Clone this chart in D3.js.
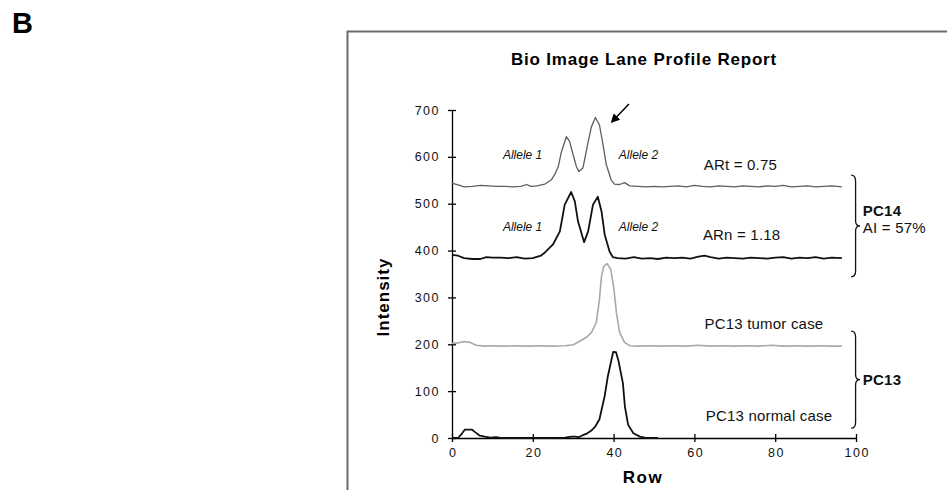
<!DOCTYPE html>
<html lang="en">
<head>
    <meta charset="UTF-8">
    <script src="https://d3js.org/d3.v7.min.js"></script>
    <style>
    body { margin:0; background:#fff; }
    svg { font-family: "Liberation Sans", Arial, sans-serif; }
    .trace { fill: none; stroke-linejoin: round; }
    .axis path, .axis line { stroke: #000; stroke-width: 1.3px; }
    .axis text { font-size: 12.5px; letter-spacing: 1.5px; fill: #111; font-family: "Liberation Sans", Arial, sans-serif; }
    .note { font-size: 15px; letter-spacing: 0.2px; fill: #111; }
    .allele { font-size: 12px; font-style: italic; fill: #111; }
    </style>
    <title>Bio Image Lane Profile Report</title>
</head>

<body>
<script>
// ARt trace (PC14 tumor)
var rowsARt = [0, 1.5, 3, 5, 7, 9, 11, 13, 15, 17, 18.5, 19.5, 21, 23, 24.6, 25.4, 26.3, 27.1, 28.3, 29.1,
    30, 30.8, 31.4, 32.4, 33.7, 34.5, 35.5, 36.5, 37.4, 38.2, 39.4, 40.2, 41.5, 42.7, 44, 46, 48, 50, 52, 54,
    56, 58, 60, 62, 64, 66, 68, 70, 72, 74, 76, 78, 80, 82, 84, 86, 88, 90, 92, 94, 96.5];
var valuesARt = [544, 540, 536, 537, 539, 538, 537, 537, 536, 537, 541, 537, 538, 542, 551, 562, 579, 611, 643, 633,
    604, 579, 569, 576, 632, 664, 684, 668, 625, 583, 551, 542, 541, 545, 538, 537, 536, 537, 536, 537,
    538, 536, 539, 537, 536, 538, 537, 536, 538, 537, 536, 538, 537, 539, 536, 537, 538, 536, 537, 538, 536];

// ARn trace (PC14 normal)
var rowsARn = [0, 1.5, 3, 5, 7, 8.5, 10, 12, 14, 16, 18, 20, 22, 23, 25, 26.7, 27.9, 29.5, 30.4, 31.2,
    32.7, 33.7, 34.9, 36.1, 37, 37.8, 39, 39.8, 41, 43, 45, 47, 49, 51, 53, 55, 57, 59, 61, 62.5,
    64, 66, 68, 70, 72, 74, 76, 78, 80, 82, 84, 86, 88, 90, 92, 94, 96.5];
var valuesARn = [391, 389, 384, 382, 382, 386, 385, 385, 384, 386, 383, 384, 389, 396, 413, 441, 498, 525, 505, 462,
    418, 441, 498, 515, 484, 434, 398, 386, 384, 383, 386, 383, 384, 382, 385, 384, 385, 383, 387, 389,
    386, 383, 385, 384, 383, 385, 384, 383, 385, 386, 383, 385, 384, 386, 383, 385, 384];

// PC13 tumor case
var rowsTumor = [0, 1.5, 3, 4.5, 6, 8, 10, 13, 16, 19, 22, 25, 28, 30, 31.5, 33.3, 34.5, 35.7, 36.5, 37,
    37.6, 38.4, 39.3, 40.1, 40.7, 41.5, 42.7, 44, 46, 49, 52, 55, 58, 61, 64, 67, 70, 73, 76, 79,
    82, 85, 88, 91, 94, 96.5];
var valuesTumor = [202, 203, 206, 204, 198, 196, 197, 196, 197, 196, 197, 196, 197, 199, 206, 215, 225, 246, 296, 345,
    367, 372, 360, 317, 267, 225, 204, 197, 196, 197, 196, 197, 196, 198, 196, 197, 196, 197, 196, 198,
    196, 197, 196, 197, 196, 196];

// PC13 normal case
var rowsNormal = [0, 1.6, 2.5, 3.2, 4.9, 5.8, 6.9, 8.1, 9.5, 10.9, 12, 15, 20, 25, 28, 29.5, 30.4, 31.5, 32.4, 33.5,
    34.5, 35.5, 36.5, 37.8, 38.6, 39.3, 39.9, 40.6, 41.2, 42.3, 42.8, 43.6, 44.9, 46.5, 48, 51];
var valuesNormal = [0, 1, 10, 18, 18, 12, 5, 3, 1, 2, 0, 0, 0, 0, 1, 3, 3, 2, 6, 10,
    16, 25, 40, 90, 133, 160, 184, 183, 165, 117, 67, 28, 10, 3, 0, 0];

var xTicks = [0, 20, 40, 60, 80, 100];
var yTicks = [0, 100, 200, 300, 400, 500, 600, 700];

var width = 947, height = 490;

var svg = d3.select("body").append("svg")
    .attr("width", width)
    .attr("height", height);

var x = d3.scaleLinear().domain([0, 100]).range([452, 856]);
var y = d3.scaleLinear().domain([0, 700]).range([438, 110]);

// panel letter + frame
svg.append("text")
    .attr("x", 12).attr("y", 33)
    .style("font-size", "29px").style("font-weight", "bold")
    .text("B");

svg.append("rect")
    .attr("x", 347.5).attr("y", 31.5)
    .attr("width", 700).attr("height", 600)
    .attr("fill", "none")
    .attr("stroke", "#6b6b6b")
    .attr("stroke-width", 2);

svg.append("text")
    .attr("x", 644).attr("y", 65)
    .attr("text-anchor", "middle")
    .style("font-size", "17px").style("font-weight", "bold").style("letter-spacing", "0.8px")
    .text("Bio Image Lane Profile Report");

// axes
var yAxis = svg.append("g")
    .attr("class", "axis")
    .attr("transform", "translate(" + x(0) + ",0)")
    .call(d3.axisLeft(y).tickValues(yTicks).tickSize(4).tickSizeOuter(0).tickPadding(8));
yAxis.selectAll(".tick line").attr("x1", 4).attr("x2", -4);

var xAxis = svg.append("g")
    .attr("class", "axis")
    .attr("transform", "translate(0," + y(0) + ")")
    .call(d3.axisBottom(x).tickValues(xTicks).tickSize(4).tickSizeOuter(0).tickPadding(6));
xAxis.selectAll(".tick line").attr("y1", -4).attr("y2", 4);
xAxis.selectAll(".tick text").attr("dx", "0.75px");

svg.append("text")
    .attr("transform", "translate(389,297) rotate(-90)")
    .attr("text-anchor", "middle")
    .style("font-size", "17px").style("font-weight", "bold").style("letter-spacing", "1px")
    .text("Intensity");

svg.append("text")
    .attr("x", 643).attr("y", 483)
    .attr("text-anchor", "middle")
    .style("font-size", "17px").style("font-weight", "bold").style("letter-spacing", "1.5px")
    .text("Row");

// traces
var line = d3.line()
    .x(function(d) { return x(d[0]); })
    .y(function(d) { return y(d[1]); });

var traces = [
    {rows: rowsARt, values: valuesARt, color: "#5e5e5e", w: 1.3},
    {rows: rowsARn, values: valuesARn, color: "#111", w: 1.8},
    {rows: rowsTumor, values: valuesTumor, color: "#a9a9a9", w: 1.6},
    {rows: rowsNormal, values: valuesNormal, color: "#111", w: 1.8}
];

svg.selectAll(".trace").data(traces).enter()
    .append("path")
    .attr("class", "trace")
    .attr("d", function(t) { return line(d3.zip(t.rows, t.values)); })
    .attr("stroke", function(t) { return t.color; })
    .attr("stroke-width", function(t) { return t.w; });

// labels
var alleleLabels = [
    {row: 12.6, value: 595, text: "Allele 1"},
    {row: 41.3, value: 595, text: "Allele 2"},
    {row: 12.6, value: 442, text: "Allele 1"},
    {row: 41.3, value: 442, text: "Allele 2"}
];
svg.selectAll(".allele").data(alleleLabels).enter()
    .append("text")
    .attr("class", "allele")
    .attr("x", function(d) { return x(d.row); })
    .attr("y", function(d) { return y(d.value); })
    .text(function(d) { return d.text; });

var notes = [
    {row: 62.3, value: 572, text: "ARt = 0.75"},
    {row: 62.1, value: 422, text: "ARn = 1.18"},
    {row: 62.5, value: 233, text: "PC13 tumor case"},
    {row: 62.8, value: 36, text: "PC13 normal case"}
];
svg.selectAll(".note").data(notes).enter()
    .append("text")
    .attr("class", "note")
    .attr("x", function(d) { return x(d.row); })
    .attr("y", function(d) { return y(d.value); })
    .text(function(d) { return d.text; });

// braces on the right
var braces = [
    {top: 561, bottom: 344, label: ["PC14", "AI = 57%"]},
    {top: 228, bottom: 21, label: ["PC13"]}
];
svg.selectAll(".brace").data(braces).enter()
    .append("path")
    .attr("class", "brace")
    .attr("fill", "none")
    .attr("stroke", "#111")
    .attr("stroke-width", 1.3)
    .attr("d", function(b) {
        var x0 = x(98.8), xm = x(99.9), xt = x(101);
        var t = y(b.top), bt = y(b.bottom), m = (t + bt) / 2;
        return "M" + x0 + "," + t + " Q" + xm + "," + t + " " + xm + "," + (t + 6) +
            " L" + xm + "," + (m - 5) + " Q" + xm + "," + m + " " + xt + "," + m +
            " Q" + xm + "," + m + " " + xm + "," + (m + 5) +
            " L" + xm + "," + (bt - 6) + " Q" + xm + "," + bt + " " + x0 + "," + bt;
    });

svg.append("text").attr("class", "note")
    .attr("x", x(101.7)).attr("y", y(474))
    .style("font-weight", "bold").text("PC14");
svg.append("text").attr("class", "note")
    .attr("x", x(101.7)).attr("y", y(437))
    .text("AI = 57%");
svg.append("text").attr("class", "note")
    .attr("x", x(101.7)).attr("y", y(113))
    .style("font-weight", "bold").text("PC13");

// arrow pointing at allele 2 peak
svg.append("defs").append("marker")
    .attr("id", "head")
    .attr("viewBox", "0 0 10 10")
    .attr("refX", 8).attr("refY", 5)
    .attr("markerWidth", 9).attr("markerHeight", 9)
    .attr("markerUnits", "userSpaceOnUse")
    .attr("orient", "auto")
    .append("path")
    .attr("d", "M0,0 L10,5 L0,10 Z")
    .attr("fill", "#000");

svg.append("line")
    .attr("x1", x(43.8)).attr("y1", y(713))
    .attr("x2", x(39.6)).attr("y2", y(675))
    .attr("stroke", "#000")
    .attr("stroke-width", 1.5)
    .attr("marker-end", "url(#head)");
</script>
</body>
</html>
